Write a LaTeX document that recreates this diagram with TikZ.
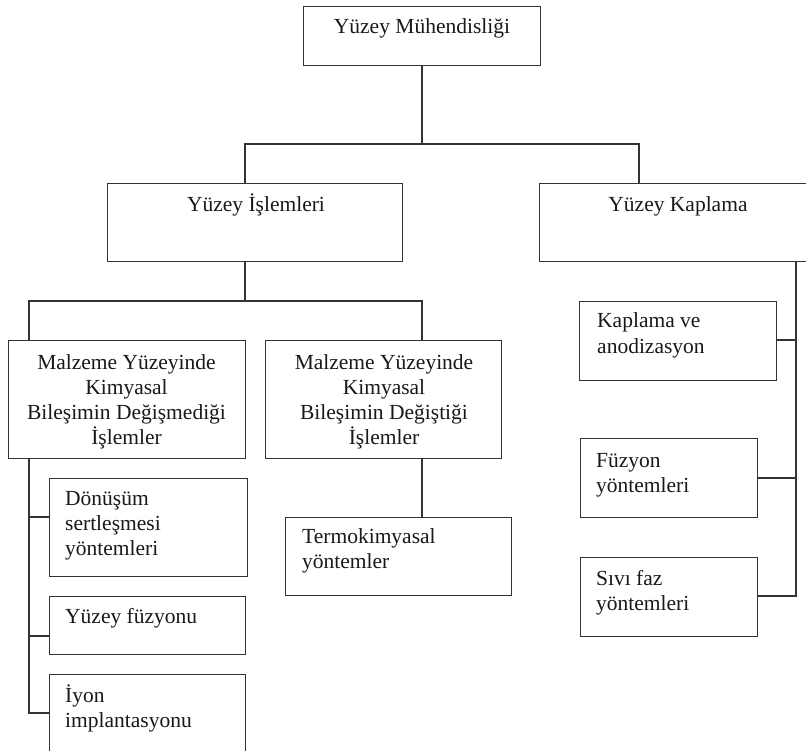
\documentclass[tikz,border=0pt]{standalone}
\usepackage{fontspec}
\setmainfont{Liberation Serif}
\begin{document}
\begin{tikzpicture}[x=1pt,y=-1pt,
  boxy/.style={draw=black!80, line width=1.3pt, fill=none, inner sep=0pt, anchor=north west},
  txt/.style={inner sep=0pt, text=black!90, font=\fontsize{21.5}{25}\selectfont, anchor=base},
  txtl/.style={txt, anchor=base west, align=left},
  txtc/.style={txt, align=center},
  conn/.style={draw=black!80, line width=1.3pt}]
\useasboundingbox (0,0) rectangle (806,751);
\clip (0,0) rectangle (806,751);
\fill[white] (0,0) rectangle (806,751);

% boxes
\node[boxy, minimum width=237, minimum height=59] (top) at (303,6) {};
\node[boxy, minimum width=295, minimum height=78] (isl) at (107,183) {};
\node[boxy, minimum width=280, minimum height=78] (kap) at (539,183) {};
\node[boxy, minimum width=237, minimum height=118] (deg1) at (8,340) {};
\node[boxy, minimum width=236, minimum height=118] (deg2) at (265,340) {};
\node[boxy, minimum width=198, minimum height=98] (donusum) at (49,478) {};
\node[boxy, minimum width=196, minimum height=58] (fuzyonu) at (49,596) {};
\node[boxy, minimum width=196, minimum height=90] (iyon) at (49,674) {};
\node[boxy, minimum width=226, minimum height=78] (termo) at (285,517) {};
\node[boxy, minimum width=197, minimum height=79] (kapl) at (579,301) {};
\node[boxy, minimum width=177, minimum height=79] (fuz) at (580,438) {};
\node[boxy, minimum width=177, minimum height=79] (sivi) at (580,557) {};

% texts (multi-line nodes are placed by the baseline of their last line)
\node[txt] (ttop) at (422,34) {Yüzey Mühendisliği};
\node[txt] (tisl) at (256,212) {Yüzey İşlemleri};
\node[txt] (tkap) at (678,212) {Yüzey Kaplama};
\node[txtc] (tdeg1) at (126.5,444) {Malzeme Yüzeyinde\\Kimyasal\\Bileşimin Değişmediği\\İşlemler};
\node[txtc] (tdeg2) at (384,444) {Malzeme Yüzeyinde\\Kimyasal\\Bileşimin Değiştiği\\İşlemler};
\node[txtl] (tdon) at (65,555) {Dönüşüm\\sertleşmesi\\yöntemleri};
\node[txtl] (tfzn) at (65,623) {Yüzey füzyonu};
\node[txtl] (tiyon) at (65,727) {İyon\\implantasyonu};
\node[txtl] (tterm) at (302,568) {Termokimyasal\\yöntemler};
\node[txtl] (tkapl) at (597,353) {Kaplama ve\\anodizasyon};
\node[txtl] (tfuz) at (596,492) {Füzyon\\yöntemleri};
\node[txtl] (tsivi) at (596,610) {Sıvı faz\\yöntemleri};

% junction coordinates
\coordinate (c1) at (245,144);
\coordinate (c2) at (639,144);
\coordinate (c0) at (422,144);
\coordinate (c3) at (29,301);
\coordinate (c4) at (422,301);
\coordinate (c5) at (245,301);
\coordinate (r0) at (796,261);
\coordinate (b1) at (29,517);
\coordinate (b2) at (29,636);
\coordinate (b3) at (29,713);
\coordinate (r1) at (796,340);
\coordinate (r2) at (796,478);
\coordinate (r3) at (796,596);

% connectors
\draw[conn] (c0 |- top.south) -- (c0);
\draw[conn] (c1 |- isl.north) -- (c1) -- (c2) -- (c2 |- kap.north);
\draw[conn] (c5 |- isl.south) -- (c5);
\draw[conn] (c3 |- deg1.north) -- (c3) -- (c4) -- (c4 |- deg2.north);
\draw[conn] (c3 |- deg1.south) -- (b3) -- (b3 -| iyon.west);
\draw[conn] (b1) -- (b1 -| donusum.west);
\draw[conn] (b2) -- (b2 -| fuzyonu.west);
\draw[conn] (c4 |- deg2.south) -- (c4 |- termo.north);
\draw[conn] (r0 |- kap.south) -- (r3) -- (r3 -| sivi.east);
\draw[conn] (r1) -- (r1 -| kapl.east);
\draw[conn] (r2) -- (r2 -| fuz.east);
\end{tikzpicture}
\end{document}
